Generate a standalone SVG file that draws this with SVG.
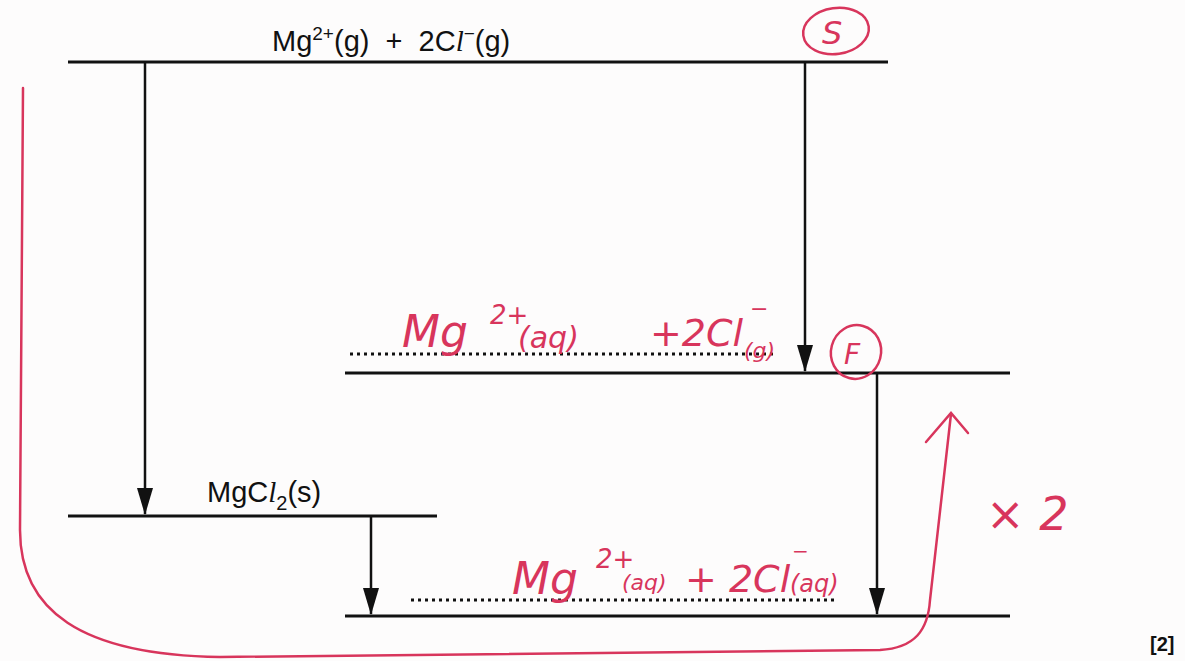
<svg xmlns="http://www.w3.org/2000/svg" width="1185" height="661" viewBox="0 0 1185 661">
<defs>
<style>
.lvl{stroke:#111;stroke-width:3;fill:none}
.vl{stroke:#111;stroke-width:2.5;fill:none}
.dot{stroke:#111;stroke-width:3;stroke-dasharray:3 4;fill:none}
.t{font-family:"Liberation Sans",Arial,sans-serif;font-size:29px;fill:#111}
.h{font-family:"DejaVu Sans","Liberation Sans",sans-serif;font-style:italic;fill:#d8355c}
.red{stroke:#d8355c;stroke-width:2.5;fill:none;stroke-linecap:round}
.head{fill:#111}
</style>
</defs>
<rect width="1185" height="661" fill="#fdfcfc"/>
<g id="connectors">
<path d="M145,62 V514" class="vl"/>
<polygon class="head" points="137,488 153,488 145,515"/>
<path d="M805,62 V371" class="vl"/>
<polygon class="head" points="797,345 813,345 805,372"/>
<path d="M371,516 V614" class="vl"/>
<polygon class="head" points="363,588 379,588 371,615"/>
<path d="M877,373 V614" class="vl"/>
<polygon class="head" points="869,588 885,588 877,615"/>
</g>
<g id="level-gas">
<line class="lvl" x1="68" y1="62" x2="888" y2="62"/>
<text class="t" x="272" y="51" xml:space="preserve">Mg<tspan dy="-11" font-size="19">2+</tspan><tspan dy="11">(g)  +  2C</tspan><tspan font-family="'Liberation Serif'" font-style="italic">l</tspan><tspan dy="-11" font-size="19">−</tspan><tspan dy="11">(g)</tspan></text>
</g>
<g id="level-middle">
<line class="lvl" x1="345" y1="373" x2="1010" y2="373"/>
<line class="dot" x1="350" y1="354" x2="776" y2="354"/>
<text class="h" x="402" y="347" font-size="44">Mg</text>
<text class="h" x="490" y="324" font-size="26">2+</text>
<text class="h" x="518" y="348" font-size="30">(aq)</text>
<text class="h" x="650" y="346" font-size="38">+2Cl</text>
<text class="h" x="750" y="316" font-size="22">−</text>
<text class="h" x="744" y="358" font-size="22">(g)</text>
</g>
<g id="level-mgcl2">
<line class="lvl" x1="68" y1="516" x2="437" y2="516"/>
<text class="t" x="207" y="502" font-size="30">MgC<tspan font-family="'Liberation Serif'" font-style="italic">l</tspan><tspan dy="8" font-size="20">2</tspan><tspan dy="-8">(s)</tspan></text>
</g>
<g id="level-aq">
<line class="lvl" x1="345" y1="616" x2="1010" y2="616"/>
<line class="dot" x1="411" y1="600" x2="837" y2="600"/>
<text class="h" x="512" y="594" font-size="44">Mg</text>
<text class="h" x="596" y="568" font-size="26">2+</text>
<text class="h" x="622" y="590" font-size="22">(aq)</text>
<text class="h" x="685" y="592" font-size="38">+ 2Cl</text>
<text class="h" x="792" y="558" font-size="20">−</text>
<text class="h" x="790" y="592" font-size="24">(aq)</text>
</g>
<g id="annot-S">
<ellipse class="red" cx="836" cy="31" rx="33" ry="23" transform="rotate(-8 836 31)"/>
<text class="h" x="822" y="44" font-size="32">S</text>
</g>
<g id="annot-F">
<ellipse class="red" cx="856" cy="352" rx="25" ry="27" transform="rotate(15 856 352)"/>
<text class="h" x="844" y="364" font-size="28">F</text>
</g>
<g id="annot-cycle">
<path class="red" d="M23,88 C22,250 20,420 20,530 C20,610 80,655 220,657 L880,650 C915,648 928,630 930,600 L951,414"/>
<path class="red" d="M926,442 L951,413 L968,433"/>
<text class="h" x="986" y="530" font-size="46" font-weight="300">× 2</text>
</g>
<text x="1150" y="651" font-family="'Liberation Sans',Arial,sans-serif" font-size="20" font-weight="bold" fill="#111">[2]</text>
</svg>
